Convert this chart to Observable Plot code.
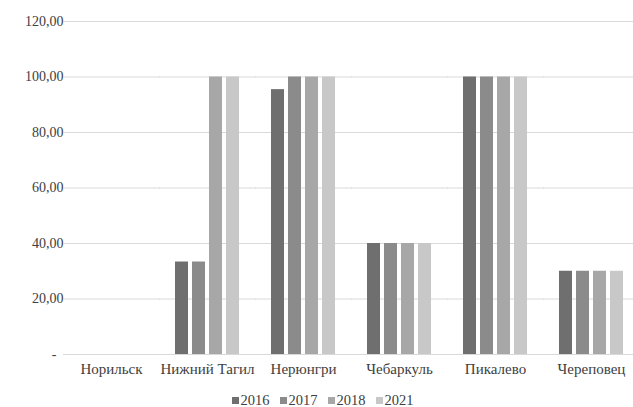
<!DOCTYPE html>
<html>
<head>
<meta charset="utf-8">
<script src="https://cdn.jsdelivr.net/npm/d3@7"></script>
<script src="https://cdn.jsdelivr.net/npm/@observablehq/plot@0.6"></script>
<style>
  html, body { margin: 0; padding: 0; background: #fff; }
  #legend { display: flex; justify-content: center; align-items: center; gap: 10px; margin-top: 3px;
    font-family: "Liberation Serif", "Times New Roman", "DejaVu Serif", serif; font-size: 14.5px; color: #404040; height: 19px; line-height: 19px; padding-left: 12px; }
  #legend .item { display: flex; align-items: center; gap: 2px; }
  #legend .sw { width: 7px; height: 7px; display: inline-block; }
  #chart svg text { font-family: "Liberation Serif", "Times New Roman", "DejaVu Serif", serif; }
  #chart svg g[aria-label="fx-axis tick label"] text { font-size: 15px; }
</style>
</head>
<body>
<div id="chart"></div>
<div id="legend"></div>
<script>
const cities = ["Норильск", "Нижний Тагил", "Нерюнгри", "Чебаркуль", "Пикалево", "Череповец"];
const years = ["2016", "2017", "2018", "2021"];
const colors = ["#6f6f6f", "#8b8b8b", "#a7a7a7", "#c8c8c8"];
const v2016 = [0, 33.33, 95.45, 40, 100, 30];
const v2017 = [0, 33.33, 100, 40, 100, 30];
const v2018 = [0, 100, 100, 40, 100, 30];
const v2021 = [0, 100, 100, 40, 100, 30];
const yTicks = [0, 20, 40, 60, 80, 100, 120];

const series = [v2016, v2017, v2018, v2021];
const data = [];
cities.forEach((c, i) => years.forEach((y, j) => data.push({city: c, year: y, value: series[j][i]})));

const fmt = d => d === 0 ? "-\u2007" : d.toFixed(2).replace(".", ",");

const chart = Plot.plot({
  width: 633,
  height: 388,
  marginLeft: 63,
  marginRight: -5,
  marginTop: 21,
  marginBottom: 34,
  style: {fontFamily: "'Liberation Serif', 'Times New Roman', serif", fontSize: "14px", color: "#404040", background: "#fff", overflow: "visible"},
  fx: {domain: cities, paddingInner: 0.315, paddingOuter: 0.142, label: null, axis: "bottom", tickSize: 0, tickPadding: 9},
  x: {domain: years, paddingInner: 0.25, paddingOuter: 0, axis: null},
  y: {domain: [0, 120], ticks: yTicks, tickFormat: fmt, label: null, tickSize: 0, tickPadding: 15},
  color: {domain: years, range: colors},
  marks: [
    Plot.ruleY(yTicks, {stroke: "#d9d9d9", strokeWidth: 1, insetLeft: -15, insetRight: -16}),
    Plot.barY(data, {fx: "city", x: "year", y: "value", fill: "year"})
  ]
});
document.getElementById("chart").appendChild(chart);

const legend = d3.select("#legend");
years.forEach((y, i) => {
  const item = legend.append("span").attr("class", "item");
  item.append("span").attr("class", "sw").style("background", colors[i]);
  item.append("span").text(y);
});
</script>
</body>
</html>
